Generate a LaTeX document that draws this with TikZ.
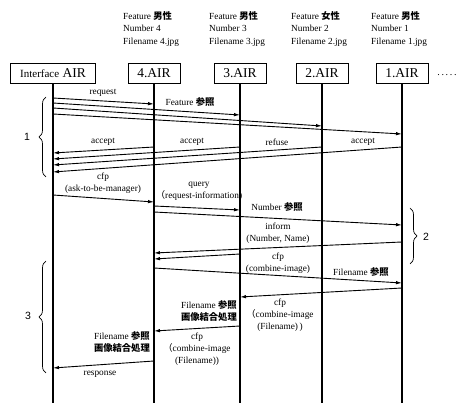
\documentclass[tikz,border=0pt]{standalone}
\usepackage{fontspec}
\setmainfont{Liberation Serif}
\newfontfamily\jpfont{Noto Sans CJK JP}
\newcommand{\jp}{\jpfont\bfseries}
\newcommand{\lp}{{\jpfont （}}
\newfontfamily\numfont{Liberation Sans}
\usetikzlibrary{arrows.meta}
\usetikzlibrary{decorations.pathreplacing}

\begin{document}
\begin{tikzpicture}[x=1pt,y=-1pt,
    air/.style={draw,line width=0.8pt,minimum width=52pt,minimum height=20pt,inner sep=2pt,font=\fontsize{13.5}{15}\selectfont},
    hdr/.style={anchor=north west,align=left,inner sep=0pt,font=\fontsize{9.3}{12.5}\selectfont},
    lbl/.style={inner sep=0pt,align=center,font=\fontsize{9.3}{11.8}\selectfont},
    msg/.style={line width=0.9pt,-{Latex[length=6pt,width=3.5pt]}},
    brc/.style={line width=0.7pt,decorate,decoration={brace,amplitude=7pt}},
    num/.style={font=\numfont\fontsize{10.5}{12}\selectfont}]
	\useasboundingbox (0,0) rectangle (456,403);

	% agents
	\node[air,minimum width=85pt] (ifa) at (53,73) {{\fontsize{11}{12}\selectfont Interface} AIR};
	\node[air] (a4) at (154,73) {4.AIR};
	\node[air] (a3) at (240,73) {3.AIR};
	\node[air] (a2) at (322,73) {2.AIR};
	\node[air] (a1) at (402,73) {1.AIR};
	\node[anchor=base,inner sep=0pt] (dots) at (447,76) {.\,.\,.\,.\,.};

	\node[hdr] (h4) at (123,11) {Feature {\jp 男性}\\Number 4\\Filename 4.jpg};
	\node[hdr] (h3) at (209,11) {Feature {\jp 男性}\\Number 3\\Filename 3.jpg};
	\node[hdr] (h2) at (291,11) {Feature {\jp 女性}\\Number 2\\Filename 2.jpg};
	\node[hdr] (h1) at (371,11) {Feature {\jp 男性}\\Number 1\\Filename 1.jpg};

	% lifelines
	\begin{scope}[line width=1.1pt]
		\foreach \n in {ifa,a4,a3,a2,a1}
			\draw (\n.south) -- (\n |- 0,403);
	\end{scope}

	% phase 1
	\draw[msg] (ifa |- 0,98) -- (a4 |- 0,104);
	\draw[msg] (ifa |- 0,103) -- (a3 |- 0,115);
	\draw[msg] (ifa |- 0,108) -- (a2 |- 0,126);
	\draw[msg] (ifa |- 0,114) -- (a1 |- 0,134);
	\node[lbl] (t-req) at (103,93) {request};
	\node[lbl] (t-feat) at (190,102) {Feature {\jp 参照}};

	\draw[msg] (a4 |- 0,147) -- (ifa |- 0,153);
	\draw[msg] (a3 |- 0,147) -- (ifa |- 0,159);
	\draw[msg] (a2 |- 0,147) -- (ifa |- 0,165);
	\draw[msg] (a1 |- 0,147) -- (ifa |- 0,172);
	\node[lbl] (t-acc4) at (103,142) {accept};
	\node[lbl] (t-acc3) at (192,142) {accept};
	\node[lbl] (t-ref2) at (277,142) {refuse};
	\node[lbl] (t-acc1) at (363,142) {accept};

	% phase 2
	\draw[msg] (ifa |- 0,195) -- (a4 |- 0,202);
	\node[lbl] (t-cfp) at (103,183) {cfp\\(ask-to-be-manager)};
	\draw[msg] (a4 |- 0,206) -- (a3 |- 0,210);
	\draw[msg] (a4 |- 0,212) -- (a1 |- 0,225);
	\node[lbl] (t-query) at (199,191) {query\\\lp request-information)};
	\node[lbl] (t-num) at (277,207) {Number {\jp 参照}};
	\draw[msg] (a1 |- 0,242) -- (a4 |- 0,253);
	\draw[msg] (a3 |- 0,254) -- (a4 |- 0,259);
	\node[lbl] (t-inf) at (278,233) {inform\\(Number, Name)};

	% phase 3
	\draw[msg] (a4 |- 0,268) -- (a1 |- 0,283);
	\node[lbl] (t-cfp2) at (278,263) {cfp\\(combine-image)};
	\node[lbl] (t-fn1) at (361,272) {Filename {\jp 参照}};
	\draw[msg] (a1 |- 0,288) -- (a3 |- 0,297);
	\node[lbl,anchor=east] (t-fn3) at (237,311) {Filename {\jp 参照}\\{\jp 画像結合処理}};
	\node[lbl] (t-cfp3) at (280,315) {cfp\\\lp combine-image\\(Filename)\,)};
	\draw[msg] (a3 |- 0,326) -- (a4 |- 0,331);
	\node[lbl,anchor=east] (t-fn4) at (150,342) {Filename {\jp 参照}\\{\jp 画像結合処理}};
	\node[lbl] (t-cfp4) at (197,349) {cfp\\\lp combine-image\\(Filename))};
	\draw[msg] (a4 |- 0,361) -- (ifa |- 0,368);
	\node[lbl] (t-resp) at (100,374) {response};

	% phases
	\draw[brc] (46,177) -- (46,97);
	\node[num] (n1) at (27,137) {1};
	\draw[brc] (410,208) -- (410,264);
	\node[num] (n2) at (426,237) {2};
	\draw[brc] (46,373) -- (46,261);
	\node[num] (n3) at (28,316) {3};
\end{tikzpicture}
\end{document}
